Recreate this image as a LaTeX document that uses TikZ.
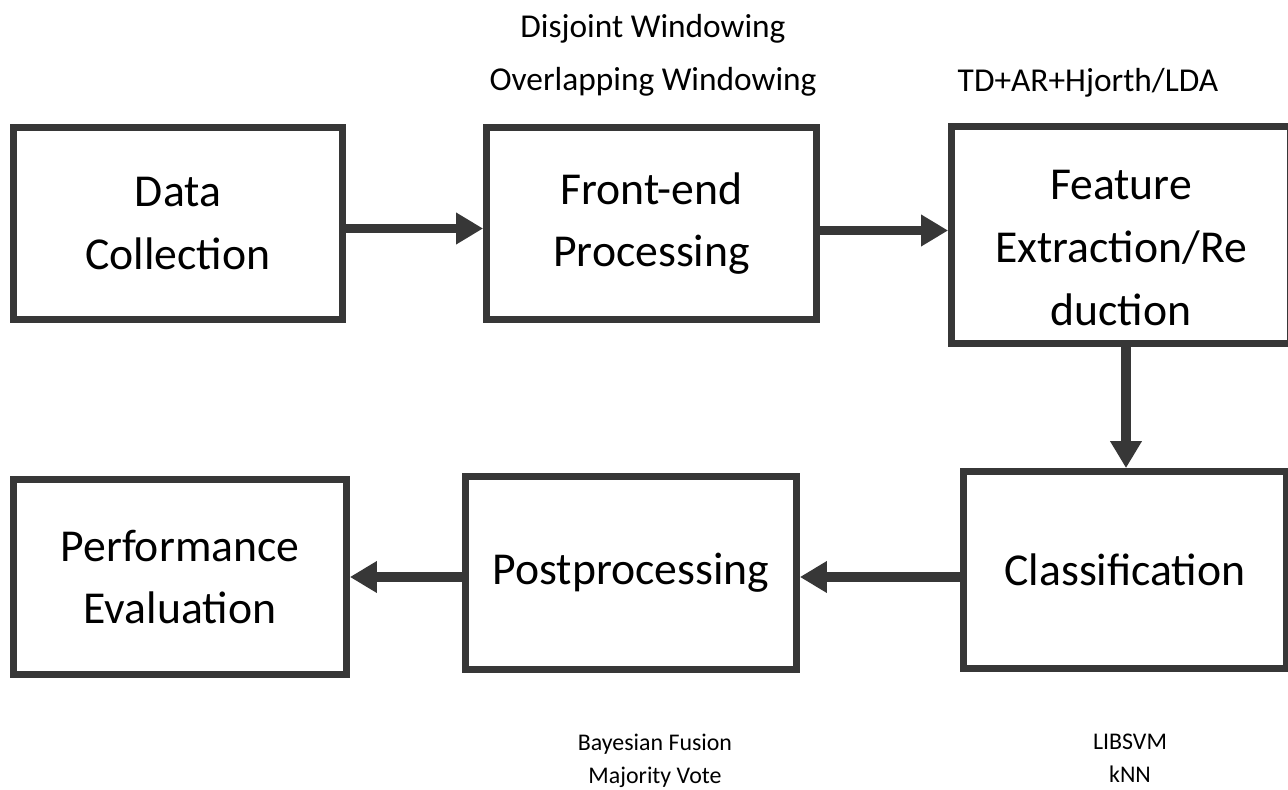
\documentclass[tikz,border=0pt]{standalone}
\usepackage{fontspec}
\setmainfont{Carlito}
\usetikzlibrary{arrows.meta,positioning,calc}
\definecolor{FrameGray}{RGB}{55,55,55}

\begin{document}
\begin{tikzpicture}[x=0.02cm, y=-0.02cm,
    stage/.style={draw=FrameGray, line width=3.9pt, fill=white, inner sep=0pt, align=center,
      font=\fontsize{26}{35.5}\selectfont},
    flow/.style={draw=FrameGray, line width=5.6pt, -{Triangle[length=0.54cm, width=0.6cm]}},
    toplbl/.style={align=center, font=\fontsize{19}{30}\selectfont},
    botlbl/.style={align=center, font=\fontsize{13.6}{18.7}\selectfont}]
      \useasboundingbox (0,0) rectangle (1288,790);
      \node[stage, minimum width=6.58cm, minimum height=3.84cm] (data) at (178,223.5) {Data\\Collection};
      \node[stage, minimum width=6.6cm, minimum height=3.84cm] (front) at (651.5,223.5) {Front-end\\Processing};
      \node[stage, minimum width=6.78cm, minimum height=4.34cm] (feat) at (1121,235) {};
      \node[stage, draw=none, fill=none, font=\fontsize{26}{36}\selectfont] (feattxt) at (1121,248) {Feature\\Extraction/Re\\duction};
      \node[stage, minimum width=6.46cm, minimum height=3.94cm] (cls) at (1125,570) {Classification};
      \node[stage, minimum width=6.62cm, minimum height=3.86cm] (post) at (631,573) {Postprocessing};
      \node[stage, minimum width=6.66cm, minimum height=3.9cm] (perf) at (180,577) {Performance\\Evaluation};
      \node[toplbl] (winlbl) at (653,55) {Disjoint Windowing\\Overlapping Windowing};
      \node[toplbl] (featlbl) at (1088,83) {TD+AR+Hjorth/LDA};
      \node[botlbl] (fuslbl) at (655,761) {Bayesian Fusion\\Majority Vote};
      \node[botlbl] (clslbl) at (1130,758) {LIBSVM\\kNN};
      \draw[flow] ($(data.east)+(0,5)$) -- ($(front.west)+(0,5)$);
      \draw[flow] ($(front.east)+(0,7)$) -- ($(front.east -| feat.west)+(0,7)$);
      \draw[flow] ($(feat.south)+(5,0)$) -- ($(feat.south |- cls.north)+(5,0)$);
      \draw[flow] ($(cls.west)+(0,7)$) -- ($(cls.west -| post.east)+(0,7)$);
      \draw[flow] ($(post.west)+(0,4)$) -- ($(post.west -| perf.east)+(0,4)$);
    \end{tikzpicture}
\end{document}
